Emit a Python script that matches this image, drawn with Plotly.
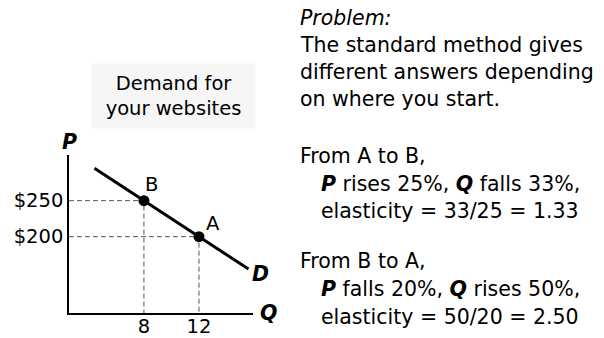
import plotly.graph_objects as go

W, H = 604, 338

# Demand curve and the two marked points
demand_q = [4.4, 8, 12, 15.6]
demand_p = [295, 250, 200, 155]
point_names = ["B", "A"]
point_q = [8, 12]
point_p = [250, 200]

# Axis ticks
q_ticks = [8, 12]
q_tick_labels = ["8", "12"]
p_ticks = [250, 200]
p_tick_labels = ["$250", "$200"]

# Axis extents (data units)
q_range = [2.55, 15.93]
p_range = [94, 313.4]

# Explanatory text
problem_lines = [
    ("<i>Problem:</i>", 0),
    ("The standard method gives", 0),
    ("different answers depending", 0),
    ("on where you start.", 0),
]
calc_lines = [
    ("From A to B,", 0),
    ("<b><i>P</i></b> rises 25%, <b><i>Q</i></b> falls 33%,", 1),
    ("elasticity = 33/25 = 1.33", 1),
    ("From B to A,", 0),
    ("<b><i>P</i></b> falls 20%, <b><i>Q</i></b> rises 50%,", 1),
    ("elasticity = 50/20 = 2.50", 1),
]

FONT = "DejaVu Sans, Verdana, sans-serif"
FS_TEXT = 20.5
FS_CHART = 19.5


def px(x):
    return x / W


def py(y):
    return 1 - y / H


def label(x, y, text, size, xanchor="center", **kw):
    return dict(
        x=x, y=y, text=text, showarrow=False, xanchor=xanchor, yanchor="middle",
        font=dict(size=size, color="black", family=FONT), **kw,
    )


fig = go.Figure()

# Dashed guides from each point to the axes
for q, p in zip(point_q, point_p):
    fig.add_trace(go.Scatter(
        x=[q_range[0], q, q], y=[p, p, p_range[0]],
        mode="lines", line=dict(color="#555555", width=1, dash="5px,3px"),
        hoverinfo="skip", showlegend=False,
    ))

fig.add_trace(go.Scatter(
    x=demand_q, y=demand_p, mode="lines",
    line=dict(color="black", width=3), showlegend=False,
))
fig.add_trace(go.Scatter(
    x=point_q, y=point_p, mode="markers",
    marker=dict(color="black", size=11), showlegend=False,
))

annotations = []
# point letters
for name, q, p, dx, dy in zip(point_names, point_q, point_p, [8, 14], [-16, -13]):
    annotations.append(label(q, p, name, FS_CHART, xref="x", yref="y",
                             xshift=dx, yshift=-dy))

annotations.append(label(demand_q[-1], demand_p[-1], "<b><i>D</i></b>", FS_CHART + 1,
                         xref="x", yref="y", xshift=12, yshift=-5))
annotations.append(label(px(69), py(142), "<b><i>P</i></b>", FS_CHART + 1,
                         xref="paper", yref="paper"))
annotations.append(label(px(268), py(313), "<b><i>Q</i></b>", FS_CHART + 1,
                         xref="paper", yref="paper"))

# chart title box
annotations.append(label(
    px(173.5), py(96), "Demand for<br>your websites", 19.5,
    xref="paper", yref="paper", bgcolor="#f6f6f6", width=161, height=62,
    align="center", borderpad=1,
))

problem_y = [18, 45, 72, 99]
for (txt, ind), y in zip(problem_lines, problem_y):
    annotations.append(label(px(298 + 21 * ind), py(y), txt, FS_TEXT, xanchor="left",
                             xref="paper", yref="paper"))

calc_y = [156, 184, 211, 261, 289, 317]
for (txt, ind), y in zip(calc_lines, calc_y):
    annotations.append(label(px(298 + 21 * ind), py(y), txt, FS_TEXT, xanchor="left",
                             xref="paper", yref="paper"))

axis_common = dict(
    showgrid=False, zeroline=False, showline=True, linecolor="black", linewidth=1.5,
    ticks="", tickfont=dict(size=FS_CHART, color="black", family=FONT), automargin=False,
)

fig.update_layout(
    width=W, height=H, margin=dict(l=0, r=0, t=0, b=0),
    paper_bgcolor="white", plot_bgcolor="white",
    showlegend=False, annotations=annotations,
    xaxis=dict(domain=[px(69), px(253)], range=q_range,
               tickvals=q_ticks, ticktext=q_tick_labels, ticklabelstandoff=-5,
               **axis_common),
    yaxis=dict(domain=[py(313), py(155)], range=p_range,
               tickvals=p_ticks, ticktext=p_tick_labels, **axis_common),
)

fig.write_html("out.html")
